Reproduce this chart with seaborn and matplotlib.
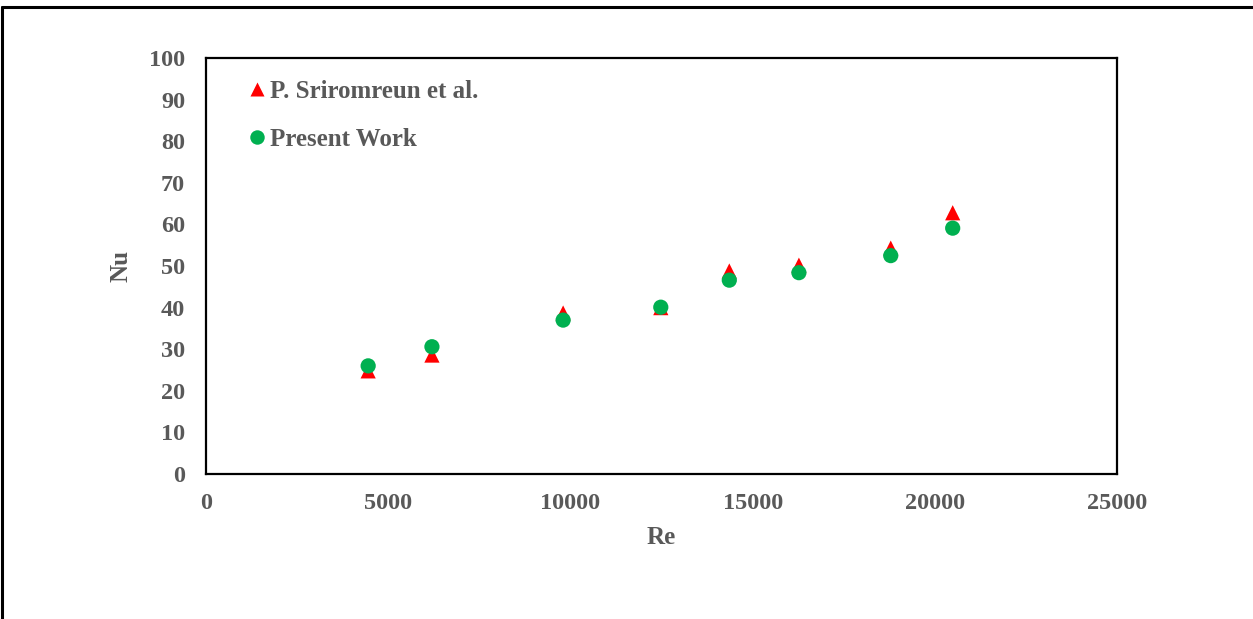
import pandas as pd
import matplotlib.pyplot as plt
import seaborn as sns
from matplotlib.lines import Line2D

# Values
re_values = [4450, 6200, 9800, 12480, 14360, 16270, 18790, 20490]
nu_sriromreun = [24.8, 28.6, 38.7, 40.0, 48.8, 50.2, 54.3, 62.8]
nu_present = [26.0, 30.6, 37.0, 40.1, 46.6, 48.4, 52.5, 59.1]
series_names = ["P. Sriromreun et al.", "Present Work"]
x_ticks = [0, 5000, 10000, 15000, 20000, 25000]
y_ticks = list(range(0, 101, 10))

df = pd.DataFrame({
    "Re": re_values * 2,
    "Nu": nu_sriromreun + nu_present,
    "Source": [series_names[0]] * len(re_values) + [series_names[1]] * len(re_values),
})

sns.set_theme(style="white")
text_grey = "#595959"
plt.rcParams.update({
    "font.family": ["Liberation Serif", "DejaVu Serif"],
    "font.weight": "bold",
    "text.color": text_grey,
    "axes.labelcolor": text_grey,
    "xtick.color": text_grey,
    "ytick.color": text_grey,
})

fig = plt.figure(figsize=(12.53, 6.19), dpi=100)
ax = fig.add_axes([0.1644, 0.2342, 0.7271, 0.6721])

sns.scatterplot(
    data=df, x="Re", y="Nu", hue="Source", style="Source",
    palette=["#FF0000", "#00B050"], markers=["^", "o"],
    s=120, edgecolor="none", ax=ax, zorder=3,
)

ax.set_xlim(0, 25000)
ax.set_ylim(0, 100)
ax.set_xticks(x_ticks)
ax.set_yticks(y_ticks)
ax.tick_params(axis="both", length=0, labelsize=17.5)
ax.tick_params(axis="x", pad=13.5)
ax.tick_params(axis="y", pad=15)
for lab in ax.get_xticklabels() + ax.get_yticklabels():
    lab.set_fontweight("bold")

ax.set_xlabel("Re", fontsize=18, fontweight="bold", labelpad=9)
ax.set_ylabel("Nu", fontsize=18, fontweight="bold", labelpad=12)

for sp in ax.spines.values():
    sp.set_visible(True)
    sp.set_color("#000000")
    sp.set_linewidth(1.6)

handles, labels = ax.get_legend_handles_labels()
leg = ax.legend(
    handles, labels, loc="upper left", bbox_to_anchor=(0.031, 0.972),
    frameon=False, handlelength=1.0, handletextpad=0.05, labelspacing=1.0,
    borderaxespad=0.0, markerscale=0.95, prop={"weight": "bold", "size": 18},
)
for t in leg.get_texts():
    t.set_color(text_grey)

# Outer frame (top and left edges visible in the reference)
fig.add_artist(Line2D([0.0016, 1.0], [1 - 7 / 619, 1 - 7 / 619], color="black", lw=2.2, transform=fig.transFigure))
fig.add_artist(Line2D([0.0016, 0.0016], [0.0, 1 - 7 / 619], color="black", lw=2.2, transform=fig.transFigure))

fig.savefig("out.png", dpi=100)
